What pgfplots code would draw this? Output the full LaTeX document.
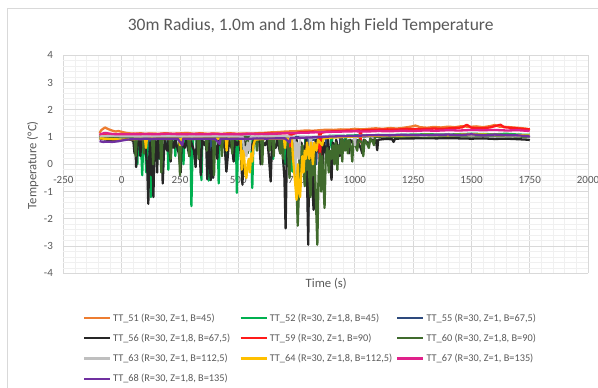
\documentclass[border=0pt]{standalone}
\usepackage{fontspec}
\setmainfont{Carlito}
\usepackage{pgfplots}
\pgfplotsset{compat=1.18}
\definecolor{txtgray}{HTML}{595959}
\definecolor{majgrid}{HTML}{D9D9D9}
\definecolor{mingrid}{HTML}{F0F0F0}
\definecolor{c51}{HTML}{ED7D31}
\definecolor{c52}{HTML}{00B050}
\definecolor{c55}{HTML}{2E4A7D}
\definecolor{c56}{HTML}{262626}
\definecolor{c59}{HTML}{FF1A1A}
\definecolor{c60}{HTML}{406B2D}
\definecolor{c63}{HTML}{BFBFBF}
\definecolor{c64}{HTML}{FFC000}
\definecolor{c67}{HTML}{E0218A}
\definecolor{c68}{HTML}{7030A0}
\newcommand{\lent}[1]{\makebox[126.5pt][l]{#1}}
\begin{document}
\begin{tikzpicture}
\path[use as bounding box] (0pt,0pt) rectangle (598pt,388pt);
\draw[majgrid, line width=0.8pt] (7pt,-10pt) -- (7pt,380pt) -- (620pt,380pt);
\begin{axis}[
  at={(121.7pt,223.7pt)}, anchor=origin,
  width=524.6pt, height=218.2pt, scale only axis,
  xmin=-250, xmax=2000, ymin=-4, ymax=4,
  xtick distance=250, ytick distance=1,
  minor x tick num=4, minor y tick num=4,
  grid=both,
  major grid style={draw=majgrid, line width=0.8pt},
  minor grid style={draw=mingrid, line width=0.7pt},
  axis x line=middle, axis y line=left,
  x axis line style={draw=majgrid, line width=0.8pt, -},
  y axis line style={draw=none, -},
  hide obscured x ticks=false, hide obscured y ticks=false,
  major tick length=0pt, minor tick length=0pt,
  tick style={draw=none},
  /pgf/number format/assume math mode=true,
  /pgf/number format/1000 sep={},
  ticklabel style={font=\fontsize{11}{13}\selectfont, text=txtgray},
  xticklabel style={anchor=north, yshift=-9pt},
  yticklabel style={anchor=east, xshift=-7pt},
  title={30m Radius, 1.0m and 1.8m high Field Temperature},
  title style={at={(axis description cs:0.4714,1.107)}, anchor=center, font=\fontsize{17.5}{20}\selectfont, text=txtgray},
  xlabel={Time (s)},
  xlabel style={at={(axis description cs:0.501,-0.049)}, anchor=center, font=\fontsize{12.7}{15}\selectfont, text=txtgray},
  ylabel={Temperature (°C)},
  ylabel style={at={(axis description cs:-0.0585,0.496)}, anchor=center, rotate=0, font=\fontsize{12.7}{15}\selectfont, text=txtgray},
  every axis plot/.append style={line width=2.3pt, line join=round},
  legend image code/.code={\draw[#1, line width=2.2pt] (0pt,0pt) -- (26pt,0pt);},
  legend columns=3,
  legend cell align=left,
  legend style={at={(axis description cs:0.0368,-0.157)}, anchor=north west, draw=none, fill=none,
    inner sep=0pt, font=\fontsize{10.3}{12}\selectfont, text=txtgray,
    nodes={inner sep=0pt, minimum height=20.3pt},
    /tikz/every odd column/.append style={column sep=2pt}},
]
% TT_51
\addplot[c51] coordinates {(-95,1.15) (-88,1.25) (-80,1.3) (-72,1.35) (-65,1.32) (-55,1.28) (-45,1.25) (-35,1.22) (-25,1.2) (-15,1.22) (-5,1.2) (5,1.18) (20,1.15) (40,1.13) (60,1.12) (80,1.14) (100,1.12) (130,1.13) (160,1.12) (190,1.14) (220,1.12) (250,1.13) (280,1.15) (310,1.12) (340,1.14) (370,1.12) (400,1.13) (430,1.12) (460,1.14) (490,1.12) (520,1.13) (550,1.12) (580,1.14) (610,1.15) (640,1.17) (670,1.18) (700,1.2) (730,1.21) (760,1.22) (790,1.24) (820,1.23) (850,1.25) (880,1.27) (910,1.26) (940,1.28) (970,1.27) (1000,1.3) (1030,1.28) (1060,1.3) (1090,1.32) (1120,1.3) (1150,1.33) (1180,1.31) (1210,1.34) (1240,1.38) (1260,1.42) (1280,1.36) (1310,1.34) (1340,1.37) (1370,1.35) (1400,1.38) (1430,1.36) (1460,1.4) (1490,1.37) (1520,1.39) (1550,1.36) (1580,1.4) (1600,1.44) (1620,1.38) (1650,1.37) (1680,1.35) (1710,1.33) (1740,1.3) (1750,1.25)};
\addlegendentry{\lent{TT\_51 (R=30, Z=1, B=45)}}
% TT_52
\addplot[c52] coordinates {(-95,1.05) (-60,1.08) (-30,1.05) (0,1.05) (30,1.06) (60,1.05) (64,0.3) (67,0.0) (71,1.0) (82,1.0) (88,-0.4) (93,1.0) (100,1.0) (105,-0.3) (110,1.0) (118,1.0) (122,-0.6) (125,-1.2) (129,0.8) (156,1.0) (160,0.2) (164,1.0) (196,1.0) (200,-0.2) (204,1.0) (226,1.0) (230,0.3) (234,1.0) (261,1.0) (265,0.0) (269,1.0) (280,1.0) (285,0.5) (289,1.0) (295,0.9) (299,-1.53) (303,0.2) (307,1.0) (320,1.0) (325,0.4) (329,1.0) (338,1.0) (342,-0.58) (346,1.0) (368,1.0) (373,-0.6) (377,1.0) (390,1.0) (395,0.3) (399,1.0) (412,1.0) (416,-0.7) (420,1.0) (446,1.0) (450,0.1) (454,1.0) (470,1.0) (475,0.5) (479,1.0) (490,1.0) (494,-1.05) (498,0.5) (502,1.0) (516,1.0) (520,0.3) (524,1.0) (555,1.0) (560,-0.87) (564,0.5) (568,1.0) (596,1.0) (600,0.4) (604,1.0) (646,1.0) (650,0.2) (654,1.0) (696,1.0) (700,0.0) (704,1.0) (728,1.0) (732,-0.27) (736,1.0) (786,1.0) (790,0.5) (794,1.0) (856,1.0) (860,0.3) (864,1.0) (896,1.05) (900,0.6) (904,1.05) (956,1.05) (960,0.8) (964,1.05) (1000,1.06) (1100,1.07) (1200,1.08) (1300,1.1) (1400,1.09) (1500,1.12) (1600,1.1) (1650,1.12) (1700,1.09) (1750,1.08)};
\addlegendentry{\lent{TT\_52 (R=30, Z=1,8, B=45)}}
% TT_55
\addplot[c55] coordinates {(-95,1.0) (-50,1.02) (0,1.0) (50,1.0) (118,1.0) (122,0.3) (126,1.0) (196,1.0) (200,0.5) (204,1.0) (300,1.01) (380,1.0) (384,0.4) (388,1.0) (500,1.01) (596,1.0) (600,0.6) (604,1.0) (716,1.0) (720,0.3) (724,1.0) (796,1.0) (800,-1.9) (804,0.9) (830,0.9) (834,0.0) (838,0.9) (876,1.0) (880,0.5) (884,1.0) (936,1.0) (940,0.4) (944,1.0) (1000,1.02) (1100,1.03) (1200,1.04) (1300,1.03) (1400,1.05) (1500,1.04) (1600,1.06) (1700,1.04) (1750,1.02)};
\addlegendentry{TT\_55 (R=30, Z=1, B=67,5)}
% TT_56
\addplot[c56] coordinates {(-95,0.95) (-80,0.92) (-60,0.9) (-40,0.88) (-20,0.9) (0,0.9) (20,0.92) (40,0.9) (50,0.85) (55,0.4) (58,0.9) (62,-0.1) (66,0.7) (75,0.9) (80,0.3) (85,0.9) (95,0.6) (100,0.9) (110,-0.2) (114,-1.45) (118,0.2) (122,0.8) (128,-0.4) (132,0.9) (136,-1.2) (140,0.6) (146,0.85) (152,-0.3) (156,0.9) (165,0.2) (170,0.85) (176,-0.7) (180,0.2) (184,0.9) (195,0.5) (200,0.9) (210,0.1) (215,0.9) (225,0.6) (230,0.9) (245,0.4) (253,-0.3) (258,0.9) (270,0.6) (278,0.9) (290,0.3) (295,0.9) (310,0.5) (317,-0.1) (322,0.9) (335,0.4) (339,-0.4) (344,0.9) (355,0.7) (362,0.9) (367,-0.55) (372,0.9) (382,-0.58) (387,0.6) (392,-0.5) (398,0.9) (410,0.2) (415,0.9) (430,0.6) (440,0.9) (449,-0.27) (455,0.3) (460,0.9) (475,0.5) (480,0.1) (485,0.9) (495,0.7) (505,0.9) (512,0.2) (518,-0.75) (523,0.9) (540,0.6) (548,0.9) (560,0.5) (566,0.9) (580,0.8) (590,0.9) (596,0.0) (600,0.9) (615,0.7) (625,0.9) (632,0.2) (639,-0.63) (645,0.9) (660,0.6) (668,0.9) (680,0.4) (686,0.9) (698,-0.5) (703,-2.35) (708,0.3) (714,0.9) (725,0.5) (730,0.9) (745,0.3) (750,0.9) (765,0.0) (770,0.8) (785,0.4) (790,0.9) (796,-1.0) (800,-2.95) (804,0.5) (812,0.9) (818,-0.8) (823,-1.67) (828,0.3) (835,0.9) (848,0.4) (853,0.9) (862,-0.2) (867,0.8) (880,0.3) (885,0.9) (895,-0.1) (900,-0.57) (905,0.8) (915,0.5) (920,0.9) (935,0.3) (940,0.9) (955,0.6) (962,0.9) (975,0.4) (980,0.9) (1000,0.7) (1008,0.9) (1025,0.6) (1032,0.4) (1038,0.9) (1060,0.75) (1068,0.9) (1090,0.9) (1096,0.52) (1100,0.9) (1130,0.93) (1160,0.92) (1166,0.82) (1172,0.93) (1200,0.95) (1250,0.95) (1300,0.96) (1350,0.95) (1400,0.96) (1450,0.95) (1500,0.94) (1550,0.95) (1600,0.93) (1650,0.94) (1700,0.92) (1745,0.9) (1750,0.88)};
\addlegendentry{\lent{TT\_56 (R=30, Z=1,8, B=67,5)}}
% TT_59
\addplot[c59] coordinates {(-95,1.05) (-80,1.1) (-60,1.12) (-40,1.1) (-20,1.08) (0,1.1) (30,1.1) (60,1.12) (90,1.1) (120,1.11) (150,1.1) (180,1.12) (210,1.1) (240,1.12) (270,1.11) (300,1.1) (330,1.12) (360,1.1) (390,1.12) (420,1.1) (450,1.11) (480,1.12) (510,1.1) (540,1.12) (570,1.11) (600,1.12) (630,1.13) (660,1.12) (690,1.14) (720,1.15) (724,0.35) (728,1.1) (760,1.17) (790,1.18) (820,1.2) (846,1.18) (850,-0.1) (854,1.15) (880,1.2) (910,1.21) (940,1.22) (970,1.24) (1000,1.23) (1020,1.25) (1024,0.8) (1028,1.24) (1060,1.26) (1100,1.27) (1140,1.28) (1180,1.27) (1220,1.3) (1260,1.29) (1300,1.3) (1340,1.31) (1380,1.3) (1420,1.33) (1460,1.35) (1480,1.45) (1500,1.34) (1540,1.32) (1580,1.35) (1610,1.42) (1625,1.45) (1640,1.36) (1680,1.33) (1720,1.3) (1750,1.28)};
\addlegendentry{\lent{TT\_59 (R=30, Z=1, B=90)}}
% TT_60
\addplot[c60] coordinates {(-95,1.0) (-60,1.02) (-30,1.0) (0,1.0) (30,1.02) (55,1.0) (60,0.3) (64,1.0) (90,0.98) (95,0.4) (99,1.0) (130,0.99) (135,0.0) (139,0.9) (165,1.0) (170,-0.3) (174,0.9) (205,1.0) (210,0.2) (214,1.0) (245,0.95) (250,-0.4) (254,0.9) (285,1.0) (290,0.3) (294,1.0) (325,0.98) (330,0.2) (334,1.0) (360,1.0) (365,0.5) (369,1.0) (392,1.0) (396,-0.4) (400,0.9) (425,1.0) (430,0.3) (434,1.0) (470,0.98) (474,0.4) (478,1.0) (535,1.0) (540,0.4) (544,1.0) (575,1.0) (580,0.5) (584,1.0) (598,0.98) (603,0.0) (607,1.0) (630,1.0) (635,0.5) (639,1.0) (648,0.95) (652,0.3) (656,1.0) (675,1.0) (680,0.4) (684,1.0) (688,0.9) (692,0.2) (696,1.0) (712,1.0) (716,0.0) (720,-0.5) (724,0.6) (730,0.2) (736,0.9) (744,0.6) (750,-0.8) (755,-2.25) (760,-1.0) (764,0.5) (770,-0.3) (775,0.7) (780,0.0) (785,-0.8) (790,0.4) (795,-0.2) (800,0.6) (805,-0.5) (810,-1.2) (815,0.3) (820,-0.4) (826,0.5) (832,-1.0) (839,-2.95) (844,-0.5) (850,0.4) (855,-1.0) (860,0.3) (865,-0.6) (870,-1.6) (875,0.2) (882,0.6) (888,-0.3) (893,0.5) (900,0.2) (906,0.7) (912,0.0) (918,0.8) (925,-0.2) (930,0.7) (937,0.4) (942,0.9) (946,0.1) (950,0.9) (958,0.5) (964,0.9) (970,0.4) (975,0.9) (984,0.6) (989,0.1) (994,0.9) (1003,0.7) (1010,0.5) (1016,0.9) (1030,0.8) (1036,0.3) (1042,0.9) (1055,0.7) (1060,0.6) (1066,0.95) (1078,0.8) (1082,0.7) (1086,1.0) (1120,1.02) (1180,1.0) (1250,1.03) (1320,1.02) (1400,1.04) (1480,1.03) (1550,1.05) (1620,1.04) (1700,1.02) (1750,1.0)};
\addlegendentry{TT\_60 (R=30, Z=1,8, B=90)}
% TT_63
\addplot[c63] coordinates {(-95,1.02) (-50,1.05) (0,1.03) (100,1.02) (200,1.03) (300,1.02) (400,1.03) (500,1.02) (520,1.0) (525,0.4) (530,0.6) (535,0.3) (540,0.8) (548,0.5) (553,1.0) (600,1.02) (700,1.03) (740,1.0) (745,-0.4) (750,0.8) (760,0.2) (765,1.0) (806,1.0) (810,0.3) (814,1.0) (900,1.03) (996,1.04) (1000,0.7) (1004,1.04) (1100,1.05) (1200,1.06) (1300,1.05) (1400,1.07) (1500,1.06) (1600,1.07) (1700,1.05) (1750,1.03)};
\addlegendentry{\lent{TT\_63 (R=30, Z=1, B=112,5)}}
% TT_64
\addplot[c64] coordinates {(-95,0.95) (-60,0.93) (-30,0.92) (0,0.9) (40,0.92) (80,0.93) (100,0.93) (104,0.6) (108,0.93) (150,0.94) (200,0.93) (246,0.94) (250,0.7) (254,0.94) (300,0.93) (350,0.94) (400,0.93) (446,0.94) (450,0.5) (454,0.94) (500,0.93) (510,0.9) (515,-0.2) (520,0.5) (525,0.3) (530,-0.35) (535,-0.5) (540,0.0) (545,0.2) (550,-0.3) (555,0.4) (560,0.1) (565,0.7) (572,0.9) (600,0.93) (650,0.94) (696,0.94) (700,0.6) (704,0.94) (730,0.9) (735,0.2) (740,-0.3) (745,-0.8) (750,-1.3) (755,0.0) (760,-1.0) (765,-1.2) (770,-0.4) (775,0.3) (780,-0.3) (785,0.5) (790,0.2) (795,0.8) (805,0.2) (812,0.8) (820,0.0) (826,0.8) (835,0.5) (842,0.9) (860,0.7) (866,0.95) (900,0.98) (950,1.0) (1000,1.02) (1050,1.04) (1100,1.05) (1200,1.06) (1300,1.08) (1400,1.07) (1500,1.1) (1600,1.08) (1700,1.07) (1750,1.05)};
\addlegendentry{\lent{TT\_64 (R=30, Z=1,8, B=112,5)}}
% TT_67
\addplot[c67] coordinates {(-95,1.1) (-70,1.15) (-50,1.12) (-20,1.1) (0,1.1) (50,1.1) (100,1.11) (150,1.1) (200,1.12) (250,1.1) (300,1.11) (350,1.1) (400,1.11) (450,1.1) (500,1.1) (550,1.12) (600,1.11) (650,1.12) (700,1.14) (750,1.15) (800,1.16) (850,1.18) (900,1.19) (950,1.2) (1000,1.21) (1050,1.2) (1100,1.22) (1150,1.21) (1200,1.23) (1250,1.22) (1300,1.24) (1350,1.23) (1400,1.25) (1450,1.24) (1500,1.26) (1550,1.25) (1600,1.26) (1650,1.24) (1700,1.25) (1750,1.22)};
\addlegendentry{TT\_67 (R=30, Z=1, B=135)}
% TT_68
\addplot[c68] coordinates {(-95,0.85) (-80,0.82) (-60,0.83) (-40,0.82) (-20,0.84) (0,0.87) (20,0.9) (40,0.92) (60,0.93) (80,0.92) (100,0.94) (130,0.93) (160,0.94) (200,0.93) (240,0.94) (260,0.7) (264,0.94) (300,0.93) (350,0.94) (400,0.93) (420,0.75) (424,0.94) (460,0.93) (500,0.94) (540,0.93) (580,0.95) (620,0.94) (660,0.95) (700,0.95) (720,0.8) (724,0.96) (760,0.97) (800,0.98) (850,1.0) (900,1.02) (950,1.03) (1000,1.04) (1050,1.06) (1100,1.07) (1150,1.06) (1200,1.08) (1300,1.07) (1400,1.09) (1450,1.07) (1500,1.1) (1550,1.06) (1600,1.09) (1650,1.07) (1700,1.06) (1745,1.03) (1750,1.0)};
\addlegendentry{\lent{TT\_68 (R=30, Z=1,8, B=135)}}
\end{axis}
\end{tikzpicture}
\end{document}
